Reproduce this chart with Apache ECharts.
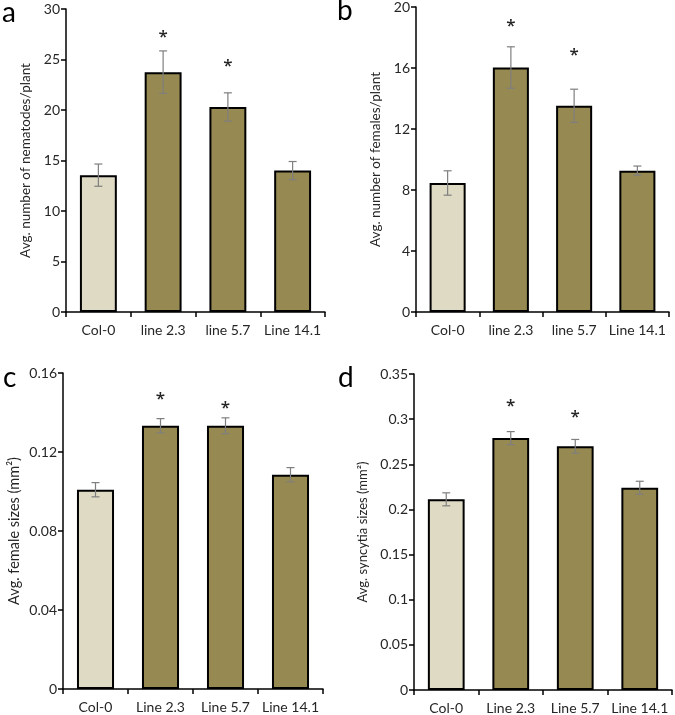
<!DOCTYPE html>
<html><head><meta charset="utf-8">
<script src="https://cdn.jsdelivr.net/npm/echarts@6/dist/echarts.min.js"></script>
<style>html,body{margin:0;padding:0;background:#fff}#c{width:675px;height:715px}</style>
</head><body><div id="c"></div>
<script>
// ---- data ----
const catsA = ['Col-0', 'line 2.3', 'line 5.7', 'Line 14.1'];
const catsB = ['Col-0', 'line 2.3', 'line 5.7', 'Line 14.1'];
const catsC = ['Col-0', 'Line 2.3', 'Line 5.7', 'Line 14.1'];
const catsD = ['Col-0', 'Line 2.3', 'Line 5.7', 'Line 14.1'];

const valsA = [13.55, 23.75, 20.3, 14.0];
const errA  = [1.1, 2.1, 1.4, 0.9];
const starA = [null, 27.75, 24.8, null];

const valsB = [8.46, 16.03, 13.52, 9.27];
const errB  = [0.8, 1.36, 1.09, 0.3];
const starB = [null, 19.1, 17.2, null];

const valsC = [0.1009, 0.1333, 0.1333, 0.1085];
const errC  = [0.0036, 0.0036, 0.0040, 0.0036];
const starC = [null, 0.1494, 0.1448, null];

const valsD = [0.2112, 0.2790, 0.2699, 0.2240];
const errD  = [0.0072, 0.0072, 0.0076, 0.0072];
const starD = [null, 0.3194, 0.3075, null];

const ticksA = {min: 0, max: 30, interval: 5};
const ticksB = {min: 0, max: 20, interval: 4};
const ticksC = {min: 0, max: 0.16, interval: 0.04};
const ticksD = {min: 0, max: 0.35, interval: 0.05};

const titleA = 'Avg. number of nematodes/plant';
const titleB = 'Avg. number of females/plant';
const titleC = 'Avg. female sizes (mm²)';
const titleD = 'Avg. syncytia sizes (mm²)';

// ---- styling ----
const FONT = 'Lato, "Open Sans", sans-serif';
const TXT = '#262626';
const LIGHT = '#DFDAC3';
const OLIVE = '#968952';

const panels = [
  {cats: catsA, vals: valsA, err: errA, star: starA, ticks: ticksA, title: titleA,
   grid: {left: 66, top: 9, right: 350, bottom: 403}, nameGap: 33, nameSize: 13.5},
  {cats: catsB, vals: valsB, err: errB, star: starB, ticks: ticksB, title: titleB,
   grid: {left: 416, top: 6, right: 6, bottom: 403}, nameGap: 33, nameSize: 13.5},
  {cats: catsC, vals: valsC, err: errC, star: starC, ticks: ticksC, title: titleC,
   grid: {left: 63, top: 373, right: 352, bottom: 26}, nameGap: 41, nameSize: 14.5},
  {cats: catsD, vals: valsD, err: errD, star: starD, ticks: ticksD, title: titleD,
   grid: {left: 414, top: 374, right: 3, bottom: 25}, nameGap: 45, nameSize: 13}
];

const grids = [], xAxes = [], yAxes = [], series = [];
panels.forEach((p, i) => {
  grids.push(p.grid);
  xAxes.push({
    type: 'category', gridIndex: i, data: p.cats,
    axisLine: {lineStyle: {color: '#000', width: 1.5}},
    axisTick: {show: true, length: 5, lineStyle: {color: '#000', width: 1.5}},
    axisLabel: {color: TXT, fontFamily: FONT, fontSize: 14, margin: 11, interval: 0}
  });
  yAxes.push({
    type: 'value', gridIndex: i, min: p.ticks.min, max: p.ticks.max, interval: p.ticks.interval,
    name: p.title, nameLocation: 'middle', nameGap: p.nameGap,
    nameTextStyle: {color: TXT, fontFamily: FONT, fontSize: p.nameSize},
    splitLine: {show: false},
    axisLine: {show: true, lineStyle: {color: '#000', width: 1.5}},
    axisTick: {show: true, length: 5, lineStyle: {color: '#000', width: 1.5}},
    axisLabel: {color: TXT, fontFamily: FONT, fontSize: 14, margin: 6}
  });
  series.push({
    type: 'bar', xAxisIndex: i, yAxisIndex: i, barWidth: '57%',
    data: p.vals.map((v, k) => ({value: v, itemStyle: {color: k === 0 ? LIGHT : OLIVE}})),
    itemStyle: {borderColor: '#000', borderWidth: 2},
    silent: true
  });
  series.push({
    type: 'custom', xAxisIndex: i, yAxisIndex: i, z: 5, silent: true,
    data: p.vals.map((v, k) => [k, v - p.err[k], v + p.err[k]]),
    renderItem: (params, api) => {
      const lo = api.coord([api.value(0), api.value(1)]);
      const hi = api.coord([api.value(0), api.value(2)]);
      const hw = 4;
      const st = {stroke: '#7F7F7F', lineWidth: 1.2};
      return {type: 'group', children: [
        {type: 'line', shape: {x1: hi[0], y1: hi[1], x2: lo[0], y2: lo[1]}, style: st},
        {type: 'line', shape: {x1: hi[0] - hw, y1: hi[1], x2: hi[0] + hw, y2: hi[1]}, style: st},
        {type: 'line', shape: {x1: lo[0] - hw, y1: lo[1], x2: lo[0] + hw, y2: lo[1]}, style: st}
      ]};
    }
  });
  series.push({
    type: 'custom', xAxisIndex: i, yAxisIndex: i, z: 6, silent: true,
    data: p.star.map((s, k) => s == null ? null : [k, s]).filter(d => d),
    renderItem: (params, api) => {
      const c = api.coord([api.value(0), api.value(1)]);
      return {type: 'text', x: c[0], y: c[1] + 5,
        style: {text: '*', fill: TXT, font: '600 17px "Open Sans", sans-serif', align: 'center', verticalAlign: 'middle'}};
    }
  });
});

const letters = [['a', 2, 14], ['b', 337, 12], ['c', 3, 379], ['d', 338, 379]];
const graphic = letters.map(l => ({
  type: 'text', left: l[1], top: l[2] - 15,
  style: {text: l[0], fill: '#000', font: '28px ' + FONT}
}));

const chart = echarts.init(document.getElementById('c'), null, {renderer: 'canvas'});
chart.setOption({
  animation: false,
  grid: grids, xAxis: xAxes, yAxis: yAxes, series: series, graphic: graphic
});
</script></body></html>
